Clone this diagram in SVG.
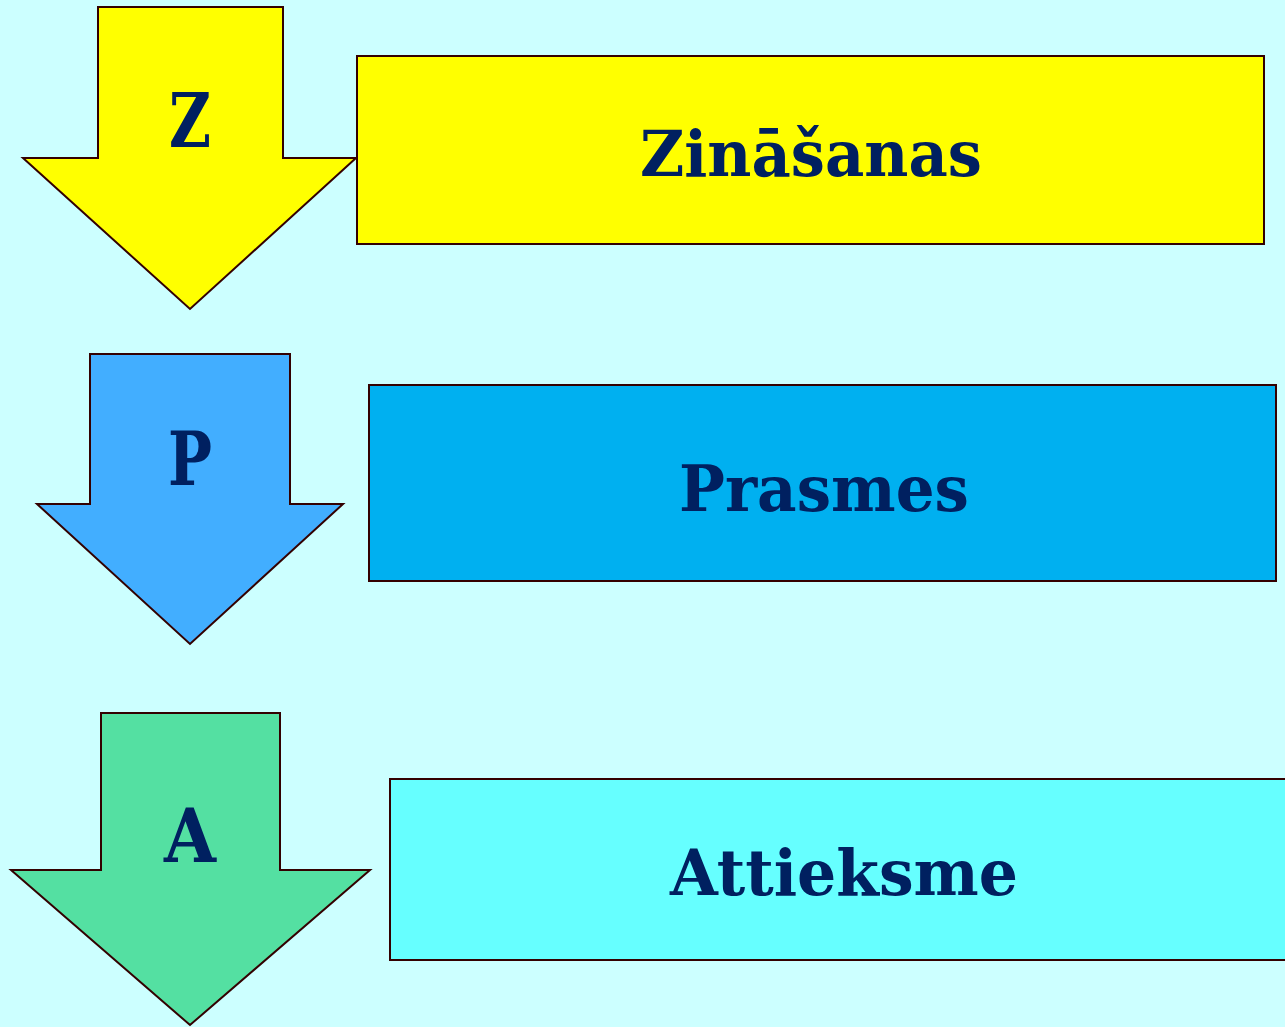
<svg xmlns="http://www.w3.org/2000/svg" width="1285" height="1027" viewBox="0 0 1285 1027">
<style>
.sh{stroke:#330000;stroke-width:2;stroke-linejoin:miter}
.t{font-family:"DejaVu Serif","Liberation Serif",serif;font-weight:bold;fill:#002060;text-anchor:middle}
.big{font-size:64px}
.let{font-size:74px}
</style>
<rect x="0" y="0" width="1285" height="1027" fill="#CCFFFF"/>
<g id="arrowZ">
<polygon class="sh" fill="#FFFF00" points="98,7 283,7 283,158 356,158 190,309 23,158 98,158"/>
<text class="t let" x="190" y="147" textLength="42" lengthAdjust="spacingAndGlyphs">Z</text>
</g>
<g id="boxZ">
<rect class="sh" fill="#FFFF00" x="357" y="56" width="907" height="188"/>
<text class="t big" x="811" y="176" textLength="342" lengthAdjust="spacingAndGlyphs">Zināšanas</text>
</g>
<g id="arrowP">
<polygon class="sh" fill="#42AEFF" points="90,354 290,354 290,504 343,504 190,644 37,504 90,504"/>
<text class="t let" x="190" y="485" textLength="44" lengthAdjust="spacingAndGlyphs">P</text>
</g>
<g id="boxP">
<rect class="sh" fill="#00B0F0" x="369" y="385" width="907" height="196"/>
<text class="t big" x="824" y="511" textLength="290" lengthAdjust="spacingAndGlyphs">Prasmes</text>
</g>
<g id="arrowA">
<polygon class="sh" fill="#54E0A2" points="101,713 280,713 280,870 370,870 190,1025 11,870 101,870"/>
<text class="t let" x="190" y="862" textLength="52" lengthAdjust="spacingAndGlyphs">A</text>
</g>
<g id="boxA">
<rect class="sh" fill="#66FFFF" x="390" y="779" width="910" height="181"/>
<text class="t big" x="844" y="895" textLength="348" lengthAdjust="spacingAndGlyphs">Attieksme</text>
</g>
<g id="connectors"/>
</svg>
